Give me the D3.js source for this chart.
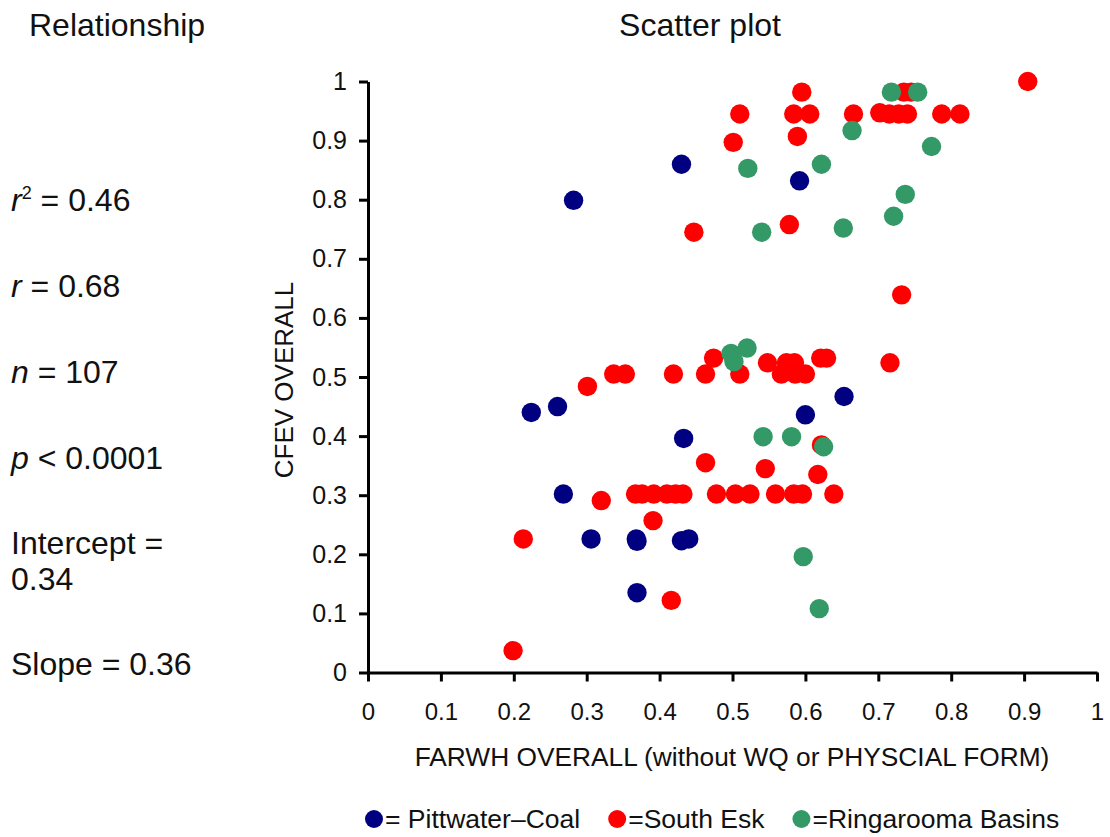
<!DOCTYPE html>
<html>
<head>
<meta charset="utf-8">
<script src="https://cdn.jsdelivr.net/npm/d3@7"></script>
<style>
  html, body { margin: 0; padding: 0; background: #fff; }
  svg { display: block; font-family: "Liberation Sans", Arial, Helvetica, sans-serif; }
</style>
</head>
<body>
<svg id="chart" width="1110" height="837"></svg>
<script>
// Site scores: [FARWH overall, CFEV overall] for each catchment group
const pittwaterCoal = [
  [0.282, 0.799], [0.430, 0.860], [0.592, 0.832], [0.224, 0.440], [0.260, 0.450],
  [0.433, 0.396], [0.600, 0.436], [0.653, 0.467], [0.268, 0.302], [0.306, 0.226],
  [0.368, 0.226], [0.369, 0.222], [0.430, 0.223], [0.440, 0.226], [0.369, 0.135]
];

const southEsk = [
  [0.905, 1.000], [0.595, 0.982], [0.510, 0.945], [0.501, 0.897], [0.584, 0.945],
  [0.606, 0.945], [0.589, 0.907], [0.666, 0.945], [0.702, 0.947], [0.715, 0.945],
  [0.728, 0.945], [0.740, 0.945], [0.735, 0.982], [0.745, 0.982], [0.787, 0.945],
  [0.812, 0.945], [0.447, 0.745], [0.578, 0.758], [0.732, 0.639],
  [0.301, 0.484], [0.337, 0.505], [0.353, 0.505], [0.419, 0.505], [0.463, 0.505],
  [0.474, 0.532], [0.510, 0.505], [0.548, 0.524], [0.574, 0.524], [0.585, 0.524],
  [0.567, 0.505], [0.586, 0.505], [0.600, 0.505], [0.621, 0.532], [0.629, 0.532],
  [0.716, 0.524],
  [0.622, 0.385], [0.463, 0.355], [0.545, 0.345], [0.617, 0.335],
  [0.367, 0.302], [0.376, 0.302], [0.392, 0.302], [0.410, 0.302], [0.422, 0.302],
  [0.432, 0.302], [0.478, 0.302], [0.504, 0.302], [0.524, 0.302], [0.559, 0.302],
  [0.584, 0.302], [0.596, 0.302], [0.639, 0.302],
  [0.320, 0.291], [0.391, 0.257], [0.213, 0.226], [0.416, 0.122], [0.199, 0.037]
];

const ringaroomaBasins = [
  [0.521, 0.853], [0.622, 0.860], [0.664, 0.917], [0.718, 0.982], [0.754, 0.982],
  [0.773, 0.890], [0.737, 0.809], [0.721, 0.772], [0.652, 0.752], [0.540, 0.745],
  [0.498, 0.540], [0.520, 0.549], [0.502, 0.526], [0.542, 0.399], [0.581, 0.399],
  [0.625, 0.382], [0.597, 0.196], [0.619, 0.108]
];

const seriesNames = ["= Pittwater\u2013Coal", "=South Esk", "=Ringarooma Basins"];
const seriesColors = ["#000080", "#ff0000", "#339966"];
const seriesData = [pittwaterCoal, southEsk, ringaroomaBasins];

const xTickLabels = ["0", "0.1", "0.2", "0.3", "0.4", "0.5", "0.6", "0.7", "0.8", "0.9", "1"];
const yTickLabels = ["0", "0.1", "0.2", "0.3", "0.4", "0.5", "0.6", "0.7", "0.8", "0.9", "1"];

const svg = d3.select("#chart");

const x = d3.scaleLinear().domain([0, 1]).range([368, 1097]);
const y = d3.scaleLinear().domain([0, 1]).range([672.5, 81.5]);

// Axes
const xAxis = d3.axisBottom(x)
  .tickValues(xTickLabels.map(Number))
  .tickFormat((d, i) => xTickLabels[i])
  .tickSize(9).tickSizeOuter(0).tickPadding(21);

const yAxis = d3.axisLeft(y)
  .tickValues(yTickLabels.map(Number))
  .tickFormat((d, i) => yTickLabels[i])
  .tickSize(9).tickSizeOuter(0).tickPadding(12);

const gx = svg.append("g").attr("transform", `translate(0,${y(0)})`).call(xAxis);
const gy = svg.append("g").attr("transform", `translate(${x(0)},0)`).call(yAxis);

[gx, gy].forEach(g => {
  g.select(".domain").attr("stroke", "#000").attr("stroke-width", 3);
  g.selectAll(".tick line").attr("stroke", "#000").attr("stroke-width", 3);
  g.selectAll(".tick text").attr("fill", "#111")
    .style("font-family", "'Liberation Sans', Arial, Helvetica, sans-serif");
});
gx.selectAll(".tick text").style("font-size", "24px");
gy.selectAll(".tick text").style("font-size", "25px");

// Points, drawn group by group
seriesData.forEach((pts, i) => {
  svg.append("g")
    .selectAll("circle")
    .data(pts)
    .join("circle")
    .attr("cx", d => x(d[0]))
    .attr("cy", d => y(d[1]))
    .attr("r", 9.7)
    .attr("fill", seriesColors[i]);
});

// Axis titles
svg.append("text")
  .attr("x", 732).attr("y", 766)
  .attr("text-anchor", "middle")
  .style("font-size", "26.3px").attr("fill", "#111")
  .text("FARWH OVERALL (without WQ or PHYSCIAL FORM)");

svg.append("text")
  .attr("transform", "translate(293,380) rotate(-90)")
  .attr("text-anchor", "middle")
  .style("font-size", "26px").attr("fill", "#111")
  .text("CFEV OVERALL");

// Panel headings
svg.append("text").attr("x", 29).attr("y", 36)
  .style("font-size", "32px").attr("fill", "#111").text("Relationship");
svg.append("text").attr("x", 700).attr("y", 36).attr("text-anchor", "middle")
  .style("font-size", "32px").attr("fill", "#111").text("Scatter plot");

// Regression summary
const stats = svg.append("g").style("font-size", "32px").attr("fill", "#111");
function statLine(yPos, parts) {
  const t = stats.append("text").attr("x", 11).attr("y", yPos);
  parts.forEach(p => {
    const s = t.append("tspan").text(p.t);
    if (p.i) s.style("font-style", "italic");
    if (p.sup) s.attr("dy", -12).style("font-size", "18px");
    if (p.down) s.attr("dy", 12);
  });
}
statLine(211, [{ t: "r", i: true }, { t: "2", sup: true }, { t: " = 0.46", down: true }]);
statLine(297, [{ t: "r", i: true }, { t: " = 0.68" }]);
statLine(383, [{ t: "n", i: true }, { t: " = 107" }]);
statLine(469, [{ t: "p", i: true }, { t: " < 0.0001" }]);
statLine(554, [{ t: "Intercept =" }]);
statLine(590, [{ t: "0.34" }]);
statLine(675, [{ t: "Slope = 0.36" }]);

// Legend
const legend = svg.append("g").style("font-size", "26.5px").attr("fill", "#111");
let lx = 365;
seriesNames.forEach((name, i) => {
  legend.append("circle").attr("cx", lx + 9).attr("cy", 819).attr("r", 9).attr("fill", seriesColors[i]);
  const t = legend.append("text").attr("x", lx + 20).attr("y", 828).text(name);
  lx += 20 + t.node().getComputedTextLength() + 28;
});
</script>
</body>
</html>
